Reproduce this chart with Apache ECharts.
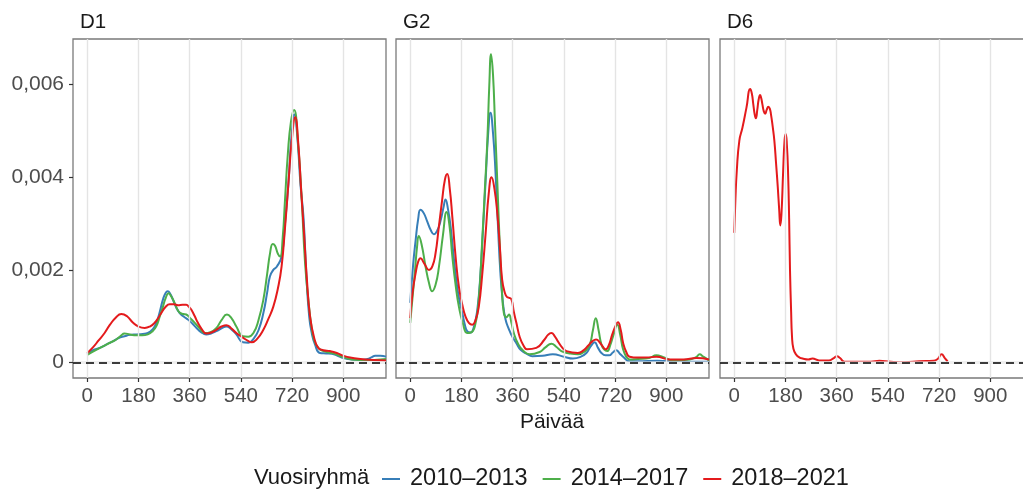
<!DOCTYPE html>
<html>
<head>
<meta charset="utf-8">
<script src="https://cdn.jsdelivr.net/npm/echarts@6/dist/echarts.min.js"></script>
<style>
  html, body { margin: 0; padding: 0; background: #fff; }
  #chart { width: 1023px; height: 492px; }
</style>
</head>
<body>
<div id="chart"></div>
<script>
// ---------- data ----------
const panelNames = ['D1', 'G2', 'D6'];
const groupNames = ['2010–2013', '2014–2017', '2018–2021'];
const groupColors = ['#377EB8', '#4DAF4A', '#E41A1C'];
const xTickValues = [0, 180, 360, 540, 720, 900];
const yTickValues = [0, 0.002, 0.004, 0.006];
const yMinorValues = [0.001, 0.003, 0.005];

// D1
const d1_2010 = [[0,0.00019],[20,0.00027],[44,0.00032],[70,0.0004],[90,0.00046],[110,0.00053],[131,0.00057],[150,0.0006],[172,0.00061],[195,0.00062],[213,0.00064],[230,0.00072],[243,0.00086],[255,0.0011],[266,0.00136],[275,0.0015],[283,0.00154],[292,0.00148],[301,0.00136],[312,0.0012],[325,0.00107],[340,0.00099],[354,0.00093],[370,0.00084],[384,0.00075],[400,0.00066],[418,0.00061],[435,0.00063],[454,0.00068],[472,0.00074],[489,0.00078],[505,0.00073],[524,0.00061],[547,0.00044],[566,0.00043],[585,0.00052],[602,0.0007],[619,0.00107],[632,0.0015],[642,0.00186],[654,0.002],[666,0.00207],[683,0.00229],[695,0.003],[707,0.00386],[718,0.0049],[728,0.00535],[738,0.0049],[750,0.0038],[760,0.00314],[770,0.0019],[780,0.001],[789,0.00064],[800,0.0004],[818,0.00021],[840,0.0002],[860,0.00019],[880,0.00015],[900,0.0001],[930,0.00007],[960,0.00006],[985,0.00008],[1000,0.00012],[1012,0.00015],[1030,0.00015],[1050,0.00013]];
const d1_2014 = [[0,0.00017],[30,0.00027],[61,0.00037],[80,0.00043],[102,0.0005],[118,0.00058],[131,0.00063],[150,0.00061],[172,0.00059],[193,0.00059],[213,0.00061],[230,0.00068],[243,0.00079],[255,0.001],[266,0.00121],[276,0.0014],[286,0.0015],[296,0.00142],[307,0.00129],[316,0.00116],[325,0.00108],[338,0.00105],[348,0.00104],[362,0.00096],[378,0.00086],[395,0.00074],[413,0.00064],[433,0.00066],[454,0.00075],[472,0.00092],[491,0.00104],[508,0.00095],[524,0.00078],[547,0.00057],[566,0.00056],[585,0.00065],[602,0.00092],[619,0.00136],[632,0.0019],[643,0.00238],[652,0.00256],[660,0.00252],[670,0.00235],[678,0.00229],[687,0.0027],[695,0.0035],[705,0.0045],[716,0.0052],[727,0.00545],[740,0.0048],[754,0.0035],[765,0.0022],[777,0.00136],[790,0.0007],[801,0.00043],[815,0.0003],[830,0.00025],[850,0.00022],[870,0.00019],[900,0.00012],[930,0.00007],[960,0.00006],[1000,0.00006],[1030,0.00007],[1050,0.00008]];
const d1_2018 = [[0,0.00021],[20,0.00033],[40,0.00048],[61,0.00064],[80,0.00082],[100,0.00097],[120,0.00105],[140,0.001],[161,0.00086],[180,0.00078],[202,0.00075],[220,0.00078],[237,0.00086],[250,0.00097],[260,0.00107],[275,0.0012],[290,0.00126],[305,0.00126],[319,0.00124],[335,0.00125],[348,0.00125],[358,0.0012],[366,0.00114],[378,0.001],[389,0.00086],[403,0.00072],[418,0.00063],[436,0.00065],[454,0.00071],[472,0.00078],[489,0.00081],[505,0.00075],[524,0.00064],[547,0.00054],[565,0.00047],[578,0.00044],[598,0.00052],[619,0.00071],[637,0.00095],[654,0.00121],[670,0.0016],[683,0.00207],[695,0.0029],[707,0.00386],[719,0.0048],[731,0.00529],[742,0.0047],[752,0.0037],[762,0.00279],[772,0.0018],[783,0.001],[797,0.00055],[812,0.00032],[830,0.00027],[853,0.00025],[877,0.00021],[900,0.00015],[924,0.00011],[960,0.00008],[1006,0.00006],[1050,0.00005]];

// G2
const g2_2010 = [[0,0.00129],[10,0.0021],[19,0.00264],[28,0.0031],[36,0.0033],[48,0.00322],[60,0.00304],[72,0.00286],[83,0.00277],[95,0.00285],[107,0.00307],[117,0.00335],[124,0.00352],[133,0.0033],[142,0.00293],[150,0.00245],[159,0.00193],[171,0.0014],[183,0.00107],[192,0.00082],[200,0.00068],[212,0.00065],[224,0.00078],[236,0.00115],[247,0.00193],[256,0.0029],[265,0.00393],[274,0.00495],[282,0.00539],[291,0.00495],[300,0.00407],[308,0.003],[317,0.00193],[326,0.00128],[335,0.00093],[347,0.00072],[358,0.00057],[373,0.00042],[388,0.00028],[410,0.00019],[429,0.00014],[465,0.00015],[501,0.00018],[540,0.00013],[572,0.00009],[600,0.00013],[619,0.00021],[634,0.00035],[648,0.00044],[660,0.00032],[672,0.00021],[686,0.00016],[699,0.00016],[712,0.00022],[724,0.00027],[736,0.0002],[748,0.00013],[771,0.00003],[800,0.00003],[868,0.00004],[950,0.00002],[1000,0.00002],[1050,0.00002]];
const g2_2014 = [[0,0.00086],[8,0.0014],[16,0.00193],[24,0.0025],[30,0.00273],[40,0.00255],[54,0.00207],[66,0.00172],[77,0.00154],[89,0.00168],[101,0.00207],[115,0.00275],[128,0.00325],[138,0.00295],[148,0.00229],[160,0.00165],[171,0.00121],[185,0.00085],[200,0.00064],[213,0.00065],[227,0.00078],[240,0.0013],[253,0.00264],[262,0.0037],[271,0.00479],[278,0.006],[284,0.00665],[291,0.0062],[298,0.00514],[306,0.0039],[314,0.00264],[322,0.0016],[329,0.00107],[338,0.00098],[347,0.00104],[355,0.00088],[364,0.00064],[378,0.00042],[394,0.00028],[419,0.00018],[455,0.00023],[475,0.00033],[496,0.00041],[514,0.00034],[531,0.00025],[560,0.0002],[589,0.00018],[615,0.00025],[631,0.00039],[642,0.0007],[652,0.00096],[662,0.0007],[672,0.00039],[682,0.00028],[692,0.00025],[703,0.00038],[713,0.00057],[728,0.00082],[738,0.0006],[748,0.00029],[760,0.00012],[771,0.00007],[800,0.00008],[840,0.0001],[865,0.00016],[890,0.00012],[923,0.00005],[982,0.00007],[1005,0.00012],[1017,0.00018],[1030,0.00013],[1050,0.00005]];
const g2_2018 = [[0,0.00096],[8,0.0015],[19,0.00193],[28,0.00218],[36,0.00225],[50,0.00213],[66,0.002],[78,0.00208],[89,0.00236],[100,0.0029],[112,0.0035],[122,0.00395],[130,0.00407],[139,0.00375],[148,0.00314],[160,0.00225],[171,0.00164],[183,0.00125],[194,0.001],[206,0.00086],[218,0.00082],[230,0.00093],[241,0.00121],[253,0.0019],[265,0.00279],[276,0.00365],[286,0.004],[296,0.00375],[306,0.00322],[315,0.0025],[323,0.00179],[332,0.00152],[341,0.00141],[348,0.0014],[356,0.00136],[364,0.0011],[373,0.00086],[385,0.00055],[399,0.00036],[410,0.00029],[443,0.00032],[472,0.0005],[484,0.0006],[496,0.00064],[508,0.00057],[519,0.00046],[535,0.00032],[549,0.00025],[589,0.00021],[610,0.00027],[624,0.00036],[640,0.00046],[653,0.0005],[668,0.00042],[680,0.00032],[687,0.00029],[698,0.00038],[710,0.00061],[722,0.0008],[730,0.00087],[740,0.0007],[748,0.00043],[760,0.00022],[771,0.00013],[800,0.00011],[830,0.00011],[865,0.00013],[912,0.00007],[960,0.00007],[1006,0.0001],[1050,0.00007]];

// D6
const d6_2018 = [[0,0.0028],[4,0.0035],[9,0.00414],[18,0.00479],[29,0.00507],[43,0.0055],[56,0.0059],[62,0.0058],[67,0.00557],[72,0.00535],[76,0.00527],[81,0.00545],[86,0.00568],[91,0.00577],[95,0.0057],[99,0.00557],[104,0.00542],[109,0.00537],[114,0.00545],[120,0.00552],[125,0.00548],[129,0.00536],[135,0.0051],[141,0.00479],[147,0.0043],[153,0.00379],[158,0.0033],[162,0.00296],[166,0.0032],[172,0.00414],[177,0.0048],[181,0.00493],[185,0.0047],[189,0.00414],[193,0.0031],[196,0.002],[200,0.0011],[203,0.00057],[208,0.0003],[217,0.00018],[230,0.00011],[240,0.00009],[260,0.00007],[275,0.00009],[298,0.00005],[333,0.00005],[350,0.0001],[361,0.00014],[372,0.0001],[387,0.00002],[420,0.00002],[480,0.00002],[510,0.00004],[550,0.00002],[600,0.00001],[650,0.00003],[700,0.00004],[715,0.00008],[729,0.00018],[740,0.0001],[750,0.00003]];

const panelData = [
  [d1_2010, d1_2014, d1_2018],
  [g2_2010, g2_2014, g2_2018],
  [null, null, d6_2018]
];

// ---------- layout ----------
const FONT = "'Liberation Sans', Arial, sans-serif";
const panelLefts = [73, 396, 720];
const panelTop = 39, panelW = 313, panelH = 339;
const xMin = -50, xMax = 1050;
const yMin = -0.00033, yMax = 0.00698;

const grids = [], xAxes = [], yAxes = [], series = [], titles = [];

panelLefts.forEach((L, i) => {
  grids.push({
    left: L, top: panelTop, width: panelW, height: panelH,
    show: true, borderColor: '#7a7a7a', borderWidth: 1.3, backgroundColor: '#fff',
    containLabel: false, outerBoundsMode: 'none'
  });
  xAxes.push({
    type: 'value', gridIndex: i, min: xMin, max: xMax, position: 'bottom',
    axisLine: { show: false, onZero: false },
    axisTick: { show: true, length: 4, customValues: xTickValues, lineStyle: { color: '#333', width: 1.2 } },
    axisLabel: { show: true, customValues: xTickValues, fontSize: 20.5, color: '#4d4d4d', margin: 8, fontFamily: FONT },
    splitLine: { show: false }
  });
  yAxes.push({
    type: 'value', gridIndex: i, min: yMin, max: yMax, position: 'left',
    axisLine: { show: false, onZero: false },
    axisTick: { show: i === 0, length: 4, customValues: yTickValues, lineStyle: { color: '#333', width: 1.2 } },
    axisLabel: {
      show: i === 0, customValues: yTickValues, fontSize: 21, color: '#4d4d4d', margin: 9, fontFamily: FONT,
      formatter: v => (Math.abs(v) < 1e-12 ? '0' : v.toFixed(3).replace('.', ','))
    },
    splitLine: { show: false }
  });
  // background grid lines
  series.push({
    type: 'line', xAxisIndex: i, yAxisIndex: i, data: [], silent: true, z: 1,
    markLine: {
      silent: true, symbol: 'none', label: { show: false }, animation: false,
      data: [
        ...xTickValues.map(v => ({ xAxis: v, lineStyle: { color: '#e4e4e4', width: 1.4, type: 'solid' } })),
        ...yTickValues.map(v => ({ yAxis: v, lineStyle: { color: '#e4e4e4', width: 1.4, type: 'solid' } })),
        ...yMinorValues.map(v => ({ yAxis: v, lineStyle: { color: '#efefef', width: 0.9, type: 'solid' } }))
      ]
    }
  });
  // data lines
  panelData[i].forEach((d, k) => {
    if (!d) return;
    series.push({
      name: groupNames[k], type: 'line', xAxisIndex: i, yAxisIndex: i,
      data: d, showSymbol: false, smooth: 0.5, z: 3,
      color: groupColors[k],
      lineStyle: { color: groupColors[k], width: 2 },
      emphasis: { disabled: true }
    });
  });
  // dashed zero line
  series.push({
    type: 'line', xAxisIndex: i, yAxisIndex: i, data: [], silent: true, z: 5,
    markLine: {
      silent: true, symbol: 'none', label: { show: false }, animation: false,
      data: [{ yAxis: 0 }],
      lineStyle: { color: '#000', width: 1.7, type: [8, 5] }
    }
  });
  titles.push({
    text: panelNames[i], left: L + 7, top: 12, padding: 0,
    textStyle: { fontSize: 20.5, fontWeight: 'normal', color: '#1a1a1a', fontFamily: FONT }
  });
});

titles.push({
  text: 'Päivää', left: 552, top: 412, padding: 0, textAlign: 'center',
  textStyle: { fontSize: 21, fontWeight: 'normal', color: '#1a1a1a', fontFamily: FONT }
});
titles.push({
  text: 'Vuosiryhmä', left: 254, top: 467, padding: 0,
  textStyle: { fontSize: 22, fontWeight: 'normal', color: '#1a1a1a', fontFamily: FONT }
});

const chart = echarts.init(document.getElementById('chart'), null, { renderer: 'canvas' });
chart.setOption({
  animation: false,
  backgroundColor: '#fff',
  title: titles,
  grid: grids,
  xAxis: xAxes,
  yAxis: yAxes,
  legend: {
    data: groupNames, left: 382, top: 467, padding: 0,
    icon: 'rect', itemWidth: 18, itemHeight: 2, itemGap: 15,
    textStyle: { fontSize: 23.5, color: '#1a1a1a', fontFamily: FONT, padding: [0, 0, 0, 5] },
    selectedMode: false
  },
  tooltip: { show: false },
  series: series
});
</script>
</body>
</html>
